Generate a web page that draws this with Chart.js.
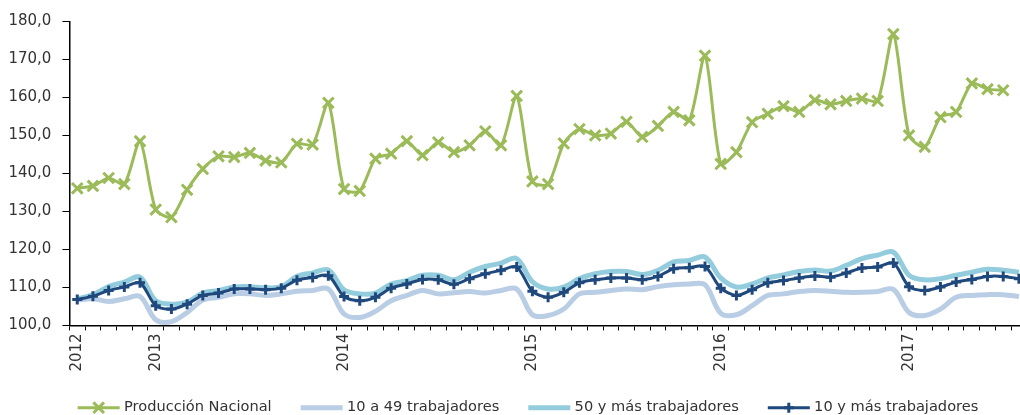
<!DOCTYPE html>
<html lang="es">
<head>
<meta charset="utf-8">
<title>Producción Nacional</title>
<script src="https://cdn.jsdelivr.net/npm/chart.js@4.4.1/dist/chart.umd.min.js"></script>
<style>
  html, body { margin: 0; padding: 0; background: #fff; overflow: hidden; }
  #wrap { width: 1020px; height: 415px; overflow: hidden; }
</style>
</head>
<body>
<div id="wrap"><canvas id="grafico" width="1040" height="425"></canvas></div>
<script>
// Mensual, ago-2012 a ago-2017 (el ultimo mes queda cortado en el borde)
const anios = ['2012', '2013', '2014', '2015', '2016', '2017'];
const posAnio = [0, 5, 17, 29, 41, 53];
const numMeses = 61;

const produccionNacional = [
    136.1, 136.7, 138.8, 137.2, 148.5, 130.5, 128.5, 135.7, 141.2, 144.5,
    144.3, 145.4, 143.4, 142.9, 147.8, 147.6, 158.6, 135.9, 135.4, 143.9,
    145.2, 148.5, 144.8, 148.2, 145.6, 147.4, 151.1, 147.4, 160.4, 137.9,
    137.2, 147.9, 151.7, 150.0, 150.5, 153.6, 149.6, 152.5, 156.2, 154.0,
    171.0, 142.5, 145.6, 153.5, 155.7, 157.7, 156.2, 159.3, 158.2, 159.1,
    159.7, 159.1, 176.7, 150.0, 147.0, 154.8, 156.2, 163.7, 162.2, 161.9,
    null
];
const de10a49 = [
    106.7, 107.0, 106.3, 107.0, 107.6, 101.5, 101.0, 103.4, 106.7, 107.4,
    108.3, 108.3, 107.9, 108.3, 109.0, 109.2, 109.6, 103.0, 102.1, 103.7,
    106.5, 107.9, 109.2, 108.3, 108.6, 108.9, 108.5, 109.2, 109.6, 102.8,
    102.6, 104.3, 108.3, 108.7, 109.2, 109.6, 109.4, 110.2, 110.7, 110.9,
    110.7, 103.2, 102.8, 105.2, 107.9, 108.3, 108.9, 109.2, 109.0, 108.7,
    108.7, 108.9, 109.5, 103.4, 102.6, 104.3, 107.4, 107.9, 108.1, 108.1,
    107.6
];
const de50yMas = [
    106.9, 108.1, 110.2, 111.4, 112.7, 106.5, 105.6, 106.1, 108.5, 109.2,
    110.1, 110.2, 109.9, 110.2, 112.9, 113.8, 114.6, 109.4, 108.3, 108.5,
    110.9, 111.8, 113.2, 113.2, 112.0, 114.0, 115.5, 116.4, 117.6, 111.5,
    109.6, 110.1, 112.3, 113.6, 114.2, 114.2, 113.4, 114.5, 116.7, 117.1,
    118.0, 112.5, 110.1, 110.9, 112.5, 113.3, 114.2, 114.6, 114.3, 115.8,
    117.6, 118.5, 119.3, 113.2, 112.0, 112.3, 113.2, 114.0, 114.8, 114.5,
    114.0
];
const de10yMas = [
    106.8, 107.7, 109.2, 110.1, 111.2, 105.2, 104.3, 105.6, 107.9, 108.5,
    109.6, 109.6, 109.4, 109.8, 111.9, 112.6, 113.1, 107.6, 106.5, 107.4,
    109.8, 110.9, 112.1, 112.0, 110.8, 112.3, 113.6, 114.5, 115.4, 109.0,
    107.4, 108.7, 111.2, 112.0, 112.5, 112.5, 112.0, 112.9, 114.9, 115.2,
    115.5, 109.8, 107.9, 109.4, 111.2, 111.8, 112.5, 113.0, 112.7, 113.8,
    115.1, 115.4, 116.4, 110.2, 109.2, 110.1, 111.4, 112.1, 112.9, 112.9,
    112.3
];

// etiquetas: solo el primer mes y cada enero llevan el anio
const etiquetas = [];
for (let i = 0; i < numMeses; i++) {
    const k = posAnio.indexOf(i);
    etiquetas.push(k >= 0 ? anios[k] : '');
}

const fuente = 'DejaVu Sans';

// desplaza la leyenda para centrarla en la parte visible
const moverLeyenda = {
    id: 'moverLeyenda',
    afterUpdate(chart) {
        const lg = chart.legend;
        const d = 13;
        lg.left += d;
        lg.right += d;
        (lg.legendHitBoxes || []).forEach(b => { b.left += d; });
    }
};

// dibuja la linea y el marcador de cada serie en la leyenda
const simbolosLeyenda = {
    id: 'simbolosLeyenda',
    afterDraw(chart) {
        const ctx = chart.ctx;
        const cajas = chart.legend.legendHitBoxes || [];
        cajas.forEach((caja, i) => {
            const ds = chart.data.datasets[i];
            const y = caja.top + caja.height / 2;
            const x0 = caja.left;
            const x1 = caja.left + 42;
            const xm = (x0 + x1) / 2;
            ctx.save();
            ctx.strokeStyle = ds.borderColor;
            ctx.lineWidth = ds.borderWidth;
            ctx.beginPath();
            ctx.moveTo(x0, y);
            ctx.lineTo(x1, y);
            ctx.stroke();
            ctx.lineWidth = ds.pointBorderWidth || 3;
            ctx.beginPath();
            if (ds.pointStyle === 'crossRot') {
                const r = 5.3;
                ctx.moveTo(xm - r, y - r); ctx.lineTo(xm + r, y + r);
                ctx.moveTo(xm - r, y + r); ctx.lineTo(xm + r, y - r);
            } else if (ds.pointStyle === 'cross') {
                const r = 5;
                ctx.moveTo(xm - r, y); ctx.lineTo(xm + r, y);
                ctx.moveTo(xm, y - r); ctx.lineTo(xm, y + r);
            }
            ctx.stroke();
            ctx.restore();
        });
    }
};

new Chart(document.getElementById('grafico'), {
    type: 'line',
    data: {
        labels: etiquetas,
        datasets: [
            {
                label: 'Producción Nacional',
                data: produccionNacional,
                borderColor: '#9bbb59',
                backgroundColor: '#9bbb59',
                borderWidth: 3,
                tension: 0.25,
                pointStyle: 'crossRot',
                pointRadius: 7.5,
                pointBorderWidth: 3,
                pointBorderColor: '#9bbb59',
                order: 0
            },
            {
                label: '10 a 49 trabajadores',
                data: de10a49,
                borderColor: '#b9cde5',
                backgroundColor: '#b9cde5',
                borderWidth: 5,
                tension: 0.35,
                pointRadius: 0,
                order: 3
            },
            {
                label: '50 y más trabajadores',
                data: de50yMas,
                borderColor: '#93cddd',
                backgroundColor: '#93cddd',
                borderWidth: 5,
                tension: 0.35,
                pointRadius: 0,
                order: 2
            },
            {
                label: '10 y más trabajadores',
                data: de10yMas,
                borderColor: '#1f497d',
                backgroundColor: '#1f497d',
                borderWidth: 3,
                tension: 0.3,
                pointStyle: 'cross',
                pointRadius: 5,
                pointBorderWidth: 3,
                pointBorderColor: '#1f497d',
                order: 1
            }
        ]
    },
    options: {
        responsive: false,
        animation: false,
        layout: { padding: { left: 0, right: 10, top: 21.5, bottom: 0 } },
        plugins: {
            tooltip: { enabled: false },
            legend: {
                position: 'bottom',
                labels: {
                    boxWidth: 39,
                    boxHeight: 6,
                    padding: 29,
                    color: '#333',
                    font: { family: fuente, size: 14.6 },
                    generateLabels(chart) {
                        return chart.data.datasets.map((ds, i) => ({
                            text: ds.label,
                            datasetIndex: i,
                            fillStyle: 'rgba(0,0,0,0)',
                            strokeStyle: 'rgba(0,0,0,0)',
                            lineWidth: 0,
                            fontColor: '#333'
                        }));
                    }
                }
            }
        },
        scales: {
            x: {
                offset: true,
                afterFit(scale) { scale.height = 46; },
                grid: {
                    offset: true,
                    drawOnChartArea: false,
                    drawTicks: true,
                    tickLength: 5,
                    color: '#000',
                    lineWidth: 1
                },
                border: { color: '#000', width: 1.5 },
                ticks: {
                    autoSkip: false,
                    maxRotation: 90,
                    minRotation: 90,
                    padding: 3,
                    color: '#333',
                    font: { family: fuente, size: 15 }
                }
            },
            y: {
                min: 100,
                max: 180,
                afterFit(scale) { scale.width = 69.4; },
                grid: {
                    drawOnChartArea: false,
                    drawTicks: true,
                    tickLength: 7,
                    color: '#000',
                    lineWidth: 1
                },
                border: { color: '#000', width: 1.5 },
                ticks: {
                    stepSize: 10,
                    padding: 11,
                    color: '#333',
                    font: { family: fuente, size: 15 },
                    callback: v => v.toFixed(1).replace('.', ',')
                }
            }
        }
    },
    plugins: [moverLeyenda, simbolosLeyenda]
});
</script>
</body>
</html>
